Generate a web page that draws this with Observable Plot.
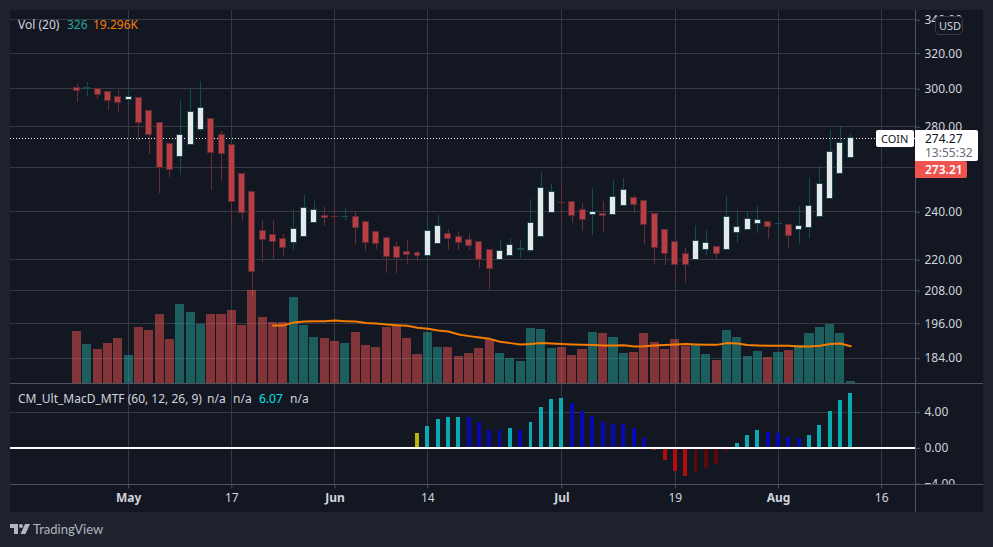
<!DOCTYPE html>
<html>
<head>
<meta charset="utf-8">
<script src="https://cdn.jsdelivr.net/npm/d3@7"></script>
<script src="https://cdn.jsdelivr.net/npm/@observablehq/plot@0.6"></script>
<style>
html,body{margin:0;padding:0;background:#1e222d;width:993px;height:547px;overflow:hidden;font-family:"Noto Sans",sans-serif;}
#root{position:relative;width:993px;height:547px;overflow:hidden;}
.abs{position:absolute;}
.abs svg{display:block;}
.t{position:absolute;white-space:nowrap;font-size:12px;line-height:14px;}
</style>
</head>
<body>
<div id="root"></div>
<script>
// Daily candles, index 0 = first session shown
const openV = [300.5,300,300,298.2,295.6,294.2,295.1,288.2,282.1,271.2,265.2,270.7,278.4,284.2,275.6,270.7,257.2,248.6,231.9,229.9,228.3,226.7,229.4,235.3,238.3,237.9,237.7,
237.9,235.4,231.3,228.8,225,222.9,222.5,221.5,226.5,230.4,229.2,227.9,227.1,223.8,219.9,221.5,223.9,223.6,229.4,239.4,244,244.1,240.8,238.6,239.2,238.7,242.6,245.9,244.5,
239.2,232,227.1,222.4,220,223.7,225.3,223.8,230.8,232,234.5,235.4,234.5,234.4,232,232.9,237.9,245.5,256.8,264.4];
const highV = [302.4,303.5,300.2,298.2,299.1,300.9,295.1,288.2,282.1,271.2,293.9,299.6,304,284.2,277.7,270.7,257.2,248.6,236,236.4,230.1,241,247,244.7,241.8,241.3,241.3,
239.9,235.4,231.3,228.8,227.1,227.6,223.3,237,238.5,232.2,231,230.6,227.1,223.8,227.6,228.4,227.6,245.2,257.7,252,252.4,244.1,243.6,250.1,244.4,253.8,254.7,247.3,244.5,
239.2,232,227.1,224.6,234.2,231.8,225.3,246.8,240.6,240,242.4,235.8,237.5,234.4,242.4,255.2,260.6,278.5,280,276.2];
const lowV = [292.8,296,294.4,288.6,287.5,290.7,272.5,266.2,247.9,255.3,256.1,270.7,277.4,249.4,253.5,235.6,235.6,205.4,218.7,220,221.4,223.5,229.4,235.3,233.5,234.3,236,
226.3,223.4,223.9,214.7,214.7,218.2,219.4,221.5,226.5,223.5,223.5,223.5,216.3,208.1,219.9,221.5,220.5,222.8,229.4,239.4,236.4,235.1,231.4,229.7,231,238.7,242.6,239.3,226.3,
217.9,217.8,210.7,210.7,220,221.8,220,223.8,226.4,232,230.6,228,231,224.3,226,228.5,237.9,245.5,256.8,264.4];
const closeV = [298.8,300.2,296.8,293.2,292.6,295.6,282.1,275.6,260,259.1,275.6,287.4,289.5,266.8,266.3,244.1,239.4,215,227.8,227.1,224.6,232.5,241.7,240.9,237.4,237.6,237.9,
232.8,226.9,226.5,221.1,220.7,221.9,221.3,231.7,233.8,228.2,226.9,225.7,219.9,216.4,223.3,225.8,224.2,235,250.5,248.6,243.8,238.2,236.5,240,238.2,246.4,249.6,243,234.2,
224.6,222.1,217.7,217.7,227.5,226.9,222.1,237.5,233.6,236.9,236.5,233.3,234.7,229.6,234,242.6,252.6,267.6,272,274.27];
// Volume (thousands) and its 20-period average
const volumeK = [26.9,20.2,17.6,20.7,23.3,14.6,28.9,27.4,35.6,22.8,40.8,36.6,30.5,35.6,35.6,37.7,30,47.9,34.1,31.5,31.5,44.3,30,23.8,23.3,21.7,20.7,
26.4,19.7,18.7,28.9,30,23.3,15.1,26.4,18.7,18.7,14,15.6,18.2,22.8,15.6,13,11.5,28.4,27.9,18.2,18.7,14.6,17.6,26.4,25.9,23.8,15.6,16.1,25.9,
21.2,17.6,22.8,19.2,19.7,15.1,12,27.4,23.8,14,16.6,13.5,16.1,17.1,19.7,25.9,28.9,30.5,25.9,1.2];
const volMaStart = 19;
const volMa = [30,30,31.5,32,32.2,32.2,32.5,32.2,32,31.2,31,30.5,30.1,29.8,28.8,28.3,27.4,26.9,25.3,24.5,23.8,23.1,21.6,20.9,20.2,20.5,20.9,20.7,20.4,20.2,20,19.9,19.7,19.7,19.8,
19.2,19.3,19.7,19.9,20.2,20.4,20.2,20,20,20.9,20.7,19.9,19.7,19.5,19.5,19.5,19.2,19.2,19.5,20.4,20.7,19.3];
// MACD histogram, starting at session 33, and its state
const macdStart = 33;
const macdV = [1.55,2.34,3.13,3.36,3.36,3.36,2.79,1.96,1.96,2.11,1.96,2.79,4.49,5.4,5.51,4.91,4.04,3.47,2.79,2.64,2.57,2.11,1.09,
-0.34,-1.47,-2.6,-3.17,-2.72,-2.26,-1.92,-0.45,0.53,1.43,1.89,1.74,1.66,1.21,1.06,1.43,2.45,4.04,5.28,6.07];
const macdState = ["flip","up","up","up","up","weak","weak","weak","weak","up","weak","up","up","up","up","weak","weak","weak","weak","weak","weak","weak","weak",
"down","down","down","down","recover","recover","recover","recover","up","up","up","weak","weak","weak","weak","up","up","up","up","up"];
// Axes
const priceGrid = [340,320,300,280,260,240,220,208,196,184];
const priceTicks = [340,320,300,280,240,220,208,196,184];
const macdTicks = [4,0,-4];
const monthTickIdx = [5,25,47,68];
const monthTickLabels = ["May","Jun","Jul","Aug"];
const dayTickIdx = [15,34,58,78];
const dayTickLabels = ["17","14","19","16"];
const lastPrice = 274.27;

const indicatorColor = {flip:"#b5b50e",up:"#0baab2",weak:"#0808b4",down:"#b30c0c",recover:"#5d0909"};
const GRID="#363a45", TXT="#d1d4dc", AX="#50535e";
const W=993,H=547,L=10,R=915,PT=10,PB=383.3,MB=484.3;
const xDomain=[-6.457,81.28];
const allTicks=[...monthTickIdx,...dayTickIdx];
const crisp={shapeRendering:"crispEdges"};

const candles = openV.map((o,i)=>({i,o,h:highV[i],l:lowV[i],c:closeV[i],v:volumeK[i],up:closeV[i]>=o}));
const ma = volMa.map((v,k)=>({i:k+volMaStart,v}));
const macd = macdV.map((v,k)=>({i:k+macdStart,v,s:macdState[k]}));

const common = {width:W,height:H,marginLeft:L,marginRight:W-R,style:{background:"transparent",fontFamily:'"Noto Sans",sans-serif',fontSize:"12px",color:TXT}};
const xs = {domain:xDomain};

const pricePlot = Plot.plot({...common,marginTop:PT,marginBottom:H-PB,x:{...xs,axis:null},
  y:{type:"log",domain:[175.6,345.8]},
  marks:[
    Plot.gridX(allTicks,{stroke:GRID,strokeOpacity:1,...crisp}),
    Plot.gridY(priceGrid,{stroke:GRID,strokeOpacity:1,...crisp}),
    Plot.axisY(priceTicks,{anchor:"right",tickSize:4,tickPadding:5,label:null,tickFormat:d=>d.toFixed(2),color:TXT,stroke:AX,textAnchor:"start",dy:0.5}),
    Plot.ruleY([lastPrice],{stroke:"#ffffff",strokeDasharray:"1 2",...crisp}),
    Plot.ruleX(candles,{x:"i",y1:"l",y2:"h",stroke:d=>d.up?"#0f4f50":"#6b2b34",strokeWidth:1,...crisp}),
    Plot.rect(candles,{x1:d=>d.i-0.29,x2:d=>d.i+0.29,y1:"o",y2:"c",fill:d=>d.up?"#e6e8ea":"#b93e43",stroke:d=>d.up?"#1d4a50":"#5c2b33",strokeWidth:1,...crisp})
  ]});

const volPlot = Plot.plot({...common,marginTop:PT,marginBottom:H-PB,x:{...xs,axis:null},
  y:{domain:[0,191.8],axis:null},
  marks:[
    Plot.rect(candles,{x1:d=>d.i-0.44,x2:d=>d.i+0.44,y1:0,y2:"v",fill:d=>d.up?"#26a69a":"#ef5350",fillOpacity:0.5,...crisp}),
    Plot.line(ma,{x:"i",y:"v",stroke:"#f57c00",strokeWidth:2,curve:"linear"})
  ]});

const macdPlot = Plot.plot({...common,marginTop:PB,marginBottom:H-MB,x:{...xs,axis:null},
  y:{domain:[-4.14,7.17]},
  marks:[
    Plot.gridX(allTicks,{stroke:GRID,strokeOpacity:1,...crisp}),
    Plot.gridY([4],{stroke:GRID,strokeOpacity:1,...crisp}),
    Plot.axisY(macdTicks,{anchor:"right",tickSize:4,tickPadding:5,label:null,tickFormat:d=>d<0?"\u2212"+(-d).toFixed(2):d.toFixed(2),color:TXT,stroke:AX,textAnchor:"start",dy:0.5}),
    Plot.rect(macd,{x1:d=>d.i-0.19,x2:d=>d.i+0.19,y1:0,y2:"v",fill:d=>indicatorColor[d.s],...crisp}),
    Plot.ruleY([0],{stroke:"#ffffff",strokeWidth:2,...crisp}),
    Plot.axisX(monthTickIdx,{anchor:"bottom",tickSize:4,tickPadding:5,label:null,tickFormat:d=>monthTickLabels[monthTickIdx.indexOf(d)],color:TXT,stroke:AX,fontWeight:"bold"}),
    Plot.axisX(dayTickIdx,{anchor:"bottom",tickSize:4,tickPadding:5,label:null,tickFormat:d=>dayTickLabels[dayTickIdx.indexOf(d)],color:TXT,stroke:AX})
  ]});

const root=document.getElementById("root");
function box(x,y,w,h,css){const d=document.createElement("div");d.className="abs";d.style.cssText=`left:${x}px;top:${y}px;width:${w}px;height:${h}px;${css||""}`;root.appendChild(d);return d;}
function txt(s,x,yc,css){const d=document.createElement("div");d.className="t";d.textContent=s;d.style.cssText=`left:${x}px;top:${yc-7}px;${css||""}`;root.appendChild(d);return d;}
function place(p){const d=box(0,0,W,H);d.appendChild(p);}

box(10,10,973,502,"background:#131722");
place(pricePlot);
place(volPlot);
place(macdPlot);
// clip strip under the MACD pane, separators
box(916,485,67,27,"background:#131722");
box(10,383,973,1,"background:#50535e");
box(10,484,973,1,"background:#50535e");
box(915,10,1,502,"background:#50535e");

// legends
txt("Vol (20)",18,25,"color:"+TXT);
txt("326",67,25,"color:#26a69a");
txt("19.296K",93,25,"color:#f57c00");
txt("CM_Ult_MacD_MTF (60, 12, 26, 9)",18,399,"color:"+TXT);
txt("n/a",207,399,"color:"+TXT);
txt("n/a",233,399,"color:"+TXT);
txt("6.07",259,399,"color:#00e5e5");
txt("n/a",290,399,"color:"+TXT);

// price labels
box(935,16,26,17,"background:#131722;border:1px solid #363a45;border-radius:4px");
txt("USD",939,25.5,"color:"+TXT+";font-size:11px");
box(876,130,38,17,"background:#fff;border-radius:2px");
txt("COIN",881,138.5,"color:#131722;font-size:11px");
box(914,138,2,1,"background:#fff");
box(915,130,63,31,"background:#fff;border-radius:0 2px 2px 0");
txt("274.27",925,138.5,"color:#131722");
txt("13:55:32",925,153,"color:#6a6d78");
box(915,161,52,16.5,"background:#ef5350;border-radius:0 2px 2px 0");
txt("273.21",925,170,"color:#fff;font-weight:600");

// footer
const logo=box(10,524,20,10);
logo.innerHTML='<svg width="20" height="10" viewBox="0 0 20 10"><path d="M0 0h8v10H4V4H0z" fill="#b2b5be"/><circle cx="11" cy="2" r="2" fill="#b2b5be"/><path d="M15 0h5l-4.5 10H10.5z" fill="#b2b5be"/></svg>';
txt("TradingView",33,529,"color:#b2b5be;font-family:Lato,sans-serif;font-size:13px");
</script>
</body>
</html>
